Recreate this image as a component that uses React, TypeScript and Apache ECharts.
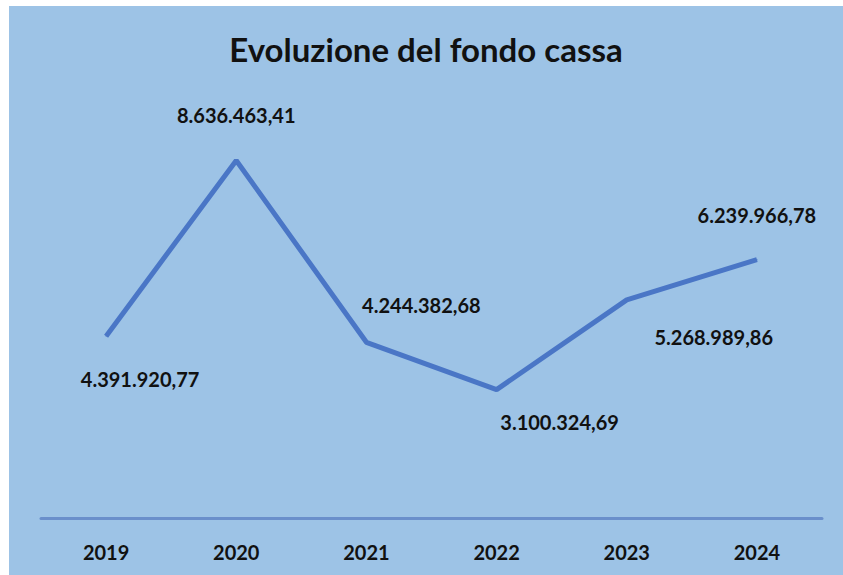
import React, { useEffect, useRef } from "react";
import * as echarts from "echarts";

const years = ["2019", "2020", "2021", "2022", "2023", "2024"];
const fondoCassa = [4391920.77, 8636463.41, 4244382.68, 3100324.69, 5268989.86, 6239966.78];
const labelOffsets: [number, number][] = [
  [34, 43],
  [0, -45],
  [55, -37],
  [63, 32],
  [87, 37],
  [0, -45],
];

function formatIt(v: number): string {
  const [intPart, dec] = v.toFixed(2).split(".");
  const grouped = intPart.replace(/\B(?=(\d{3})+(?!\d))/g, ".");
  return grouped + "," + dec;
}

const FONT = "Lato, 'Noto Sans', sans-serif";

export default function App() {
  const ref = useRef<HTMLDivElement>(null);
  useEffect(() => {
    if (!ref.current) return;
    const chart = echarts.init(ref.current, null, { renderer: "svg" });
    chart.setOption({
      animation: false,
      backgroundColor: "#9DC3E6",
      title: {
        text: "Evoluzione del fondo cassa",
        left: "center",
        top: 21,
        textStyle: {
          fontFamily: FONT,
          fontWeight: "bold",
          fontSize: 33,
          color: "#111111",
        },
      },
      grid: { left: 32, width: 781, top: 98, bottom: 57 },
      xAxis: {
        type: "category",
        data: years,
        boundaryGap: true,
        axisLine: { lineStyle: { color: "#6A8FCB", width: 3 } },
        axisTick: { show: false },
        axisLabel: {
          margin: 24,
          fontFamily: FONT,
          fontWeight: "bold",
          fontSize: 20,
          color: "#111111",
        },
      },
      yAxis: {
        type: "value",
        min: 0,
        max: 10000000,
        show: false,
        splitLine: { show: false },
      },
      series: [
        {
          type: "line",
          data: fondoCassa.map((v, i) => ({
            value: v,
            label: { offset: labelOffsets[i] },
          })),
          symbol: "circle",
          symbolSize: 1,
          lineStyle: { color: "#4A76C6", width: 5 },
          itemStyle: { color: "#4A76C6" },
          label: {
            show: true,
            position: "inside",
            formatter: (p: any) => formatIt(p.value),
            fontFamily: FONT,
            fontWeight: "bold",
            fontSize: 20,
            color: "#111111",
          },
        },
      ],
    });
    return () => chart.dispose();
  }, []);
  return (
    <div
      ref={ref}
      style={{ position: "absolute", left: 9, top: 6, width: 834, height: 569 }}
    />
  );
}
